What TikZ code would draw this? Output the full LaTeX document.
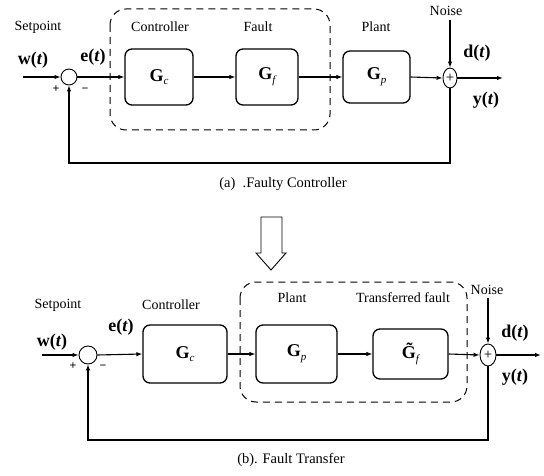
\documentclass[tikz,border=0pt]{standalone}
\usepackage{fontspec}
\setmainfont{Liberation Serif}
\usetikzlibrary{arrows.meta,shapes.geometric}
\tikzset{
  blk/.style={draw, line width=1.3pt, rounded corners=7pt, inner sep=0pt, font=\fontsize{18}{18}\selectfont\bfseries},
  sumc/.style={draw, line width=0.9pt, circle, inner sep=0pt},
  sume/.style={draw, line width=0.9pt, ellipse, inner sep=0pt, font=\fontsize{15}{15}\selectfont},
  sig/.style={line width=1.1pt, -{Latex[length=6pt,width=4.5pt]}},
  lbl/.style={font=\fontsize{14}{15}\selectfont, inner sep=0pt},
  big/.style={font=\fontsize{18}{19}\selectfont\bfseries, inner sep=0pt},
  pm/.style={font=\fontsize{12}{12}\selectfont\bfseries, inner sep=0pt},
  grp/.style={draw, line width=1pt, dash pattern=on 7pt off 5pt, rounded corners=16pt},
  captxt/.style={font=\fontsize{14.5}{15}\selectfont, inner sep=0pt}
}
\newcommand{\Gsub}[2]{#1\raisebox{-0.45ex}{\fontsize{11}{11}\selectfont\mdseries\itshape #2}}
\begin{document}
\begin{tikzpicture}[x=1pt,y=-1pt]
\useasboundingbox (0,0) rectangle (544,476);
% ---------------- (a) ----------------
\draw[grp] (110,9) rectangle (330,130);
\node[lbl] (sp1) at (38,27) {Setpoint};
\node[lbl] (lc1) at (160,27) {Controller};
\node[lbl] (lf1) at (258,27) {Fault};
\node[lbl] (lp1) at (376,27) {Plant};
\node[lbl] (ln1) at (446,11) {Noise};
\node[big] (w1) at (33,60) {w(\textit{t})};
\node[big] (e1) at (93,57) {e(\textit{t})};
\node[big] (d1) at (477,53) {d(\textit{t})};
\node[big] (y1) at (486,100) {y(\textit{t})};
\node[pm] (p1) at (56,89) {+};
\node[pm] (m1) at (85,90) {\textminus};
\coordinate (in1) at (23,77);
\node[sumc, minimum size=16pt] (s1) at (69,77) {};
\node[blk, minimum width=68pt, minimum height=56pt] (gc1) at (159,77) {\Gsub{G}{c}};
\node[blk, minimum width=62pt, minimum height=56pt] (gf1) at (267,77) {\Gsub{G}{f}};
\node[blk, minimum width=67pt, minimum height=52pt] (gp1) at (376.5,77) {\Gsub{G}{p}};
\node[sume, minimum width=14pt, minimum height=20pt] (s2) at (450,78) {+};
\coordinate (out1) at (503,78);
\coordinate (nz1) at (450,20);
\coordinate (fb1) at (450,163);
\draw[sig] (in1) -- (s1.west);
\draw[sig] (s1.east) -- (gc1.west);
\draw[sig] (gc1.east) -- (gf1.west);
\draw[sig] (gf1.east) -- (gp1.west);
\draw[sig] (gp1.east) -- (s2.west);
\draw[sig] (s2.east) -- (out1);
\draw[sig] (nz1) -- (s2.north);
\draw[sig] (s2.south) -- (fb1) -| (s1.south);
\node[captxt] (ca) at (283,184) {(a)\ \ .Faulty Controller};
% ---------------- hollow arrow ----------------
\draw[line width=0.9pt] (261,217) -- (261,253) -- (256,253) -- (271,270) -- (286,253) -- (282,253) -- (282,217) -- cycle;
% ---------------- (b) ----------------
\draw[grp] (240,282) rectangle (467,402);
\node[lbl] (sp2) at (58,305) {Setpoint};
\node[lbl] (lc2) at (171,305) {Controller};
\node[lbl] (lp2) at (292,298) {Plant};
\node[lbl] (lt2) at (403,298) {Transferred fault};
\node[lbl] (ln2) at (487,290) {Noise};
\node[big] (w2) at (52,342) {w(\textit{t})};
\node[big] (e2) at (121,327) {e(\textit{t})};
\node[big] (d2) at (515,333) {d(\textit{t})};
\node[big] (y2) at (515,377) {y(\textit{t})};
\node[pm] (p2) at (73,366) {+};
\node[pm] (m2) at (103,367) {\textminus};
\coordinate (in2) at (42,355);
\node[sumc, minimum size=18pt] (s3) at (88,355) {};
\node[blk, minimum width=84pt, minimum height=58pt] (gc2) at (185,354) {\Gsub{G}{c}};
\node[blk, minimum width=81pt, minimum height=58pt] (gp2) at (296.5,354) {\Gsub{G}{p}};
\node[blk, minimum width=75pt, minimum height=50pt] (gf2) at (410.5,354) {\Gsub{\~{G}}{f}};
\node[sume, minimum width=16pt, minimum height=22pt] (s4) at (488,355) {+};
\coordinate (out2) at (541,355);
\coordinate (nz2) at (488,298);
\coordinate (fb2) at (488,440);
\draw[sig] (in2) -- (s3.west);
\draw[sig] (s3.east) -- (gc2.west);
\draw[sig] (gc2.east) -- (gp2.west);
\draw[sig] (gp2.east) -- (gf2.west);
\draw[sig] (gf2.east) -- (s4.west);
\draw[sig] (s4.east) -- (out2);
\draw[sig] (nz2) -- (s4.north);
\draw[sig] (s4.south) -- (fb2) -| (s3.south);
\node[captxt] (cb) at (291,460) {(b). Fault Transfer};
\end{tikzpicture}
\end{document}
